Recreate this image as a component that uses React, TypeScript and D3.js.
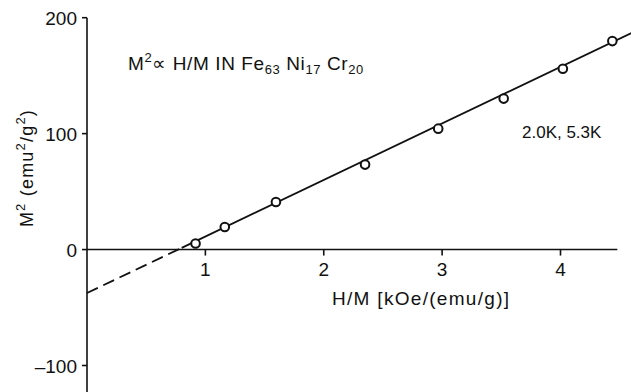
import React, { useRef, useEffect } from 'react'
import * as d3 from 'd3'

// measured points (H/M in kOe/(emu/g), M^2 in emu^2/g^2)
const hOverM = [0.917, 1.164, 1.596, 2.349, 2.967, 3.52, 4.02, 4.438]
const mSquared = [5.2, 19.5, 41, 73.3, 104.3, 130.2, 156, 179.8]

// straight line fit, solid part and dashed extrapolation
const fitSolidX = [0.8, 4.6]
const fitSolidY = [1.5, 186.9]
const fitDashX = [0, 0.8]
const fitDashY = [-37.5, 1.5]

const xTicks = [1, 2, 3, 4]
const yTicks = [200, 100, 0, -100]

const W = 631
const H = 392
const FONT = "'Liberation Sans', Arial, sans-serif"

const App = () => {
    const svgRef = useRef<SVGSVGElement>(null)

    useEffect(() => {
        const svg = d3.select(svgRef.current)
        svg.selectAll('*').remove()

        const xScale = d3.scaleLinear().domain([0, 4]).range([87, 560.5])
        const yScale = d3.scaleLinear().domain([-100, 200]).range([365.5, 17.7])

        const ink = '#111'

        //y axis line
        svg.append('line')
            .attr('x1', xScale(0)).attr('x2', xScale(0))
            .attr('y1', yScale(200)).attr('y2', H)
            .attr('stroke', ink).attr('stroke-width', 1.6)

        //x axis line
        svg.append('line')
            .attr('x1', xScale(0)).attr('x2', xScale(4.48))
            .attr('y1', yScale(0)).attr('y2', yScale(0))
            .attr('stroke', ink).attr('stroke-width', 1.6)

        //y ticks
        yTicks.forEach((t) => {
            svg.append('line')
                .attr('x1', xScale(0) - 5).attr('x2', xScale(0))
                .attr('y1', yScale(t)).attr('y2', yScale(t))
                .attr('stroke', ink).attr('stroke-width', 1.6)
            svg.append('text')
                .attr('x', xScale(0) - 10)
                .attr('y', yScale(t) + 7)
                .attr('text-anchor', 'end')
                .style('font-family', FONT)
                .style('font-size', '19px')
                .attr('fill', ink)
                .text(t < 0 ? '\u2013' + Math.abs(t) : String(t))
        })

        //x ticks
        xTicks.forEach((t) => {
            svg.append('line')
                .attr('x1', xScale(t)).attr('x2', xScale(t))
                .attr('y1', yScale(0)).attr('y2', yScale(0) + 6)
                .attr('stroke', ink).attr('stroke-width', 1.6)
            svg.append('text')
                .attr('x', xScale(t))
                .attr('y', 276)
                .attr('text-anchor', 'middle')
                .style('font-family', FONT)
                .style('font-size', '19px')
                .attr('fill', ink)
                .text(String(t))
        })

        const line = d3
            .line<number>()
            .x((d) => xScale(d[0]))
            .y((d) => yScale(d[1]))

        //dashed extrapolation
        svg.append('path')
            .datum(d3.zip(fitDashX, fitDashY))
            .attr('fill', 'none')
            .attr('stroke', ink)
            .attr('stroke-width', 1.8)
            .attr('stroke-dasharray', '12 6')
            .attr('d', line)

        //solid fit
        svg.append('path')
            .datum(d3.zip(fitSolidX, fitSolidY))
            .attr('fill', 'none')
            .attr('stroke', ink)
            .attr('stroke-width', 1.8)
            .attr('d', line)

        //data points
        svg.selectAll('.pt')
            .data(d3.zip(hOverM, mSquared))
            .enter()
            .append('circle')
            .attr('class', 'pt')
            .attr('cx', (d) => xScale(d[0]))
            .attr('cy', (d) => yScale(d[1]))
            .attr('r', 4.3)
            .attr('fill', '#fff')
            .attr('stroke', ink)
            .attr('stroke-width', 2)

        //x axis label
        svg.append('text')
            .attr('x', 332)
            .attr('y', 305)
            .style('font-family', FONT)
            .style('font-size', '19px')
            .style('letter-spacing', '1.3px')
            .attr('fill', ink)
            .text('H/M [kOe/(emu/g)]')

        //y axis label
        const yl = svg.append('text')
            .attr('transform', `translate(33, 168) rotate(-90)`)
            .attr('text-anchor', 'middle')
            .style('font-family', FONT)
            .style('font-size', '18px')
            .style('letter-spacing', '1.2px')
            .attr('fill', ink)
        yl.append('tspan').text('M')
        yl.append('tspan').attr('dy', -8).style('font-size', '13px').text('2')
        yl.append('tspan').attr('dy', 8).text('  (emu')
        yl.append('tspan').attr('dy', -8).style('font-size', '13px').text('2')
        yl.append('tspan').attr('dy', 8).text('/g')
        yl.append('tspan').attr('dy', -8).style('font-size', '13px').text('2')
        yl.append('tspan').attr('dy', 8).text(')')

        //title
        const tt = svg.append('text')
            .attr('x', 128)
            .attr('y', 70)
            .style('font-family', FONT)
            .style('font-size', '19px')
            .style('letter-spacing', '0.6px')
            .attr('fill', ink)
        tt.append('tspan').text('M')
        tt.append('tspan').attr('dy', -8).style('font-size', '13px').text('2')
        tt.append('tspan').attr('dy', 8).text('\u221D H/M IN  Fe')
        tt.append('tspan').attr('dy', 4).style('font-size', '13px').text('63')
        tt.append('tspan').attr('dy', -4).text(' Ni')
        tt.append('tspan').attr('dy', 4).style('font-size', '13px').text('17')
        tt.append('tspan').attr('dy', -4).text(' Cr')
        tt.append('tspan').attr('dy', 4).style('font-size', '13px').text('20')

        //temperatures
        svg.append('text')
            .attr('x', 522)
            .attr('y', 138)
            .style('font-family', FONT)
            .style('font-size', '17px')
            .attr('fill', ink)
            .text('2.0K, 5.3K')
    }, [])

    return (
        <svg
            ref={svgRef}
            width={W}
            height={H}
            style={{ position: 'absolute', left: 0, top: 0, background: '#fff' }}
        />
    )
}

export default App
